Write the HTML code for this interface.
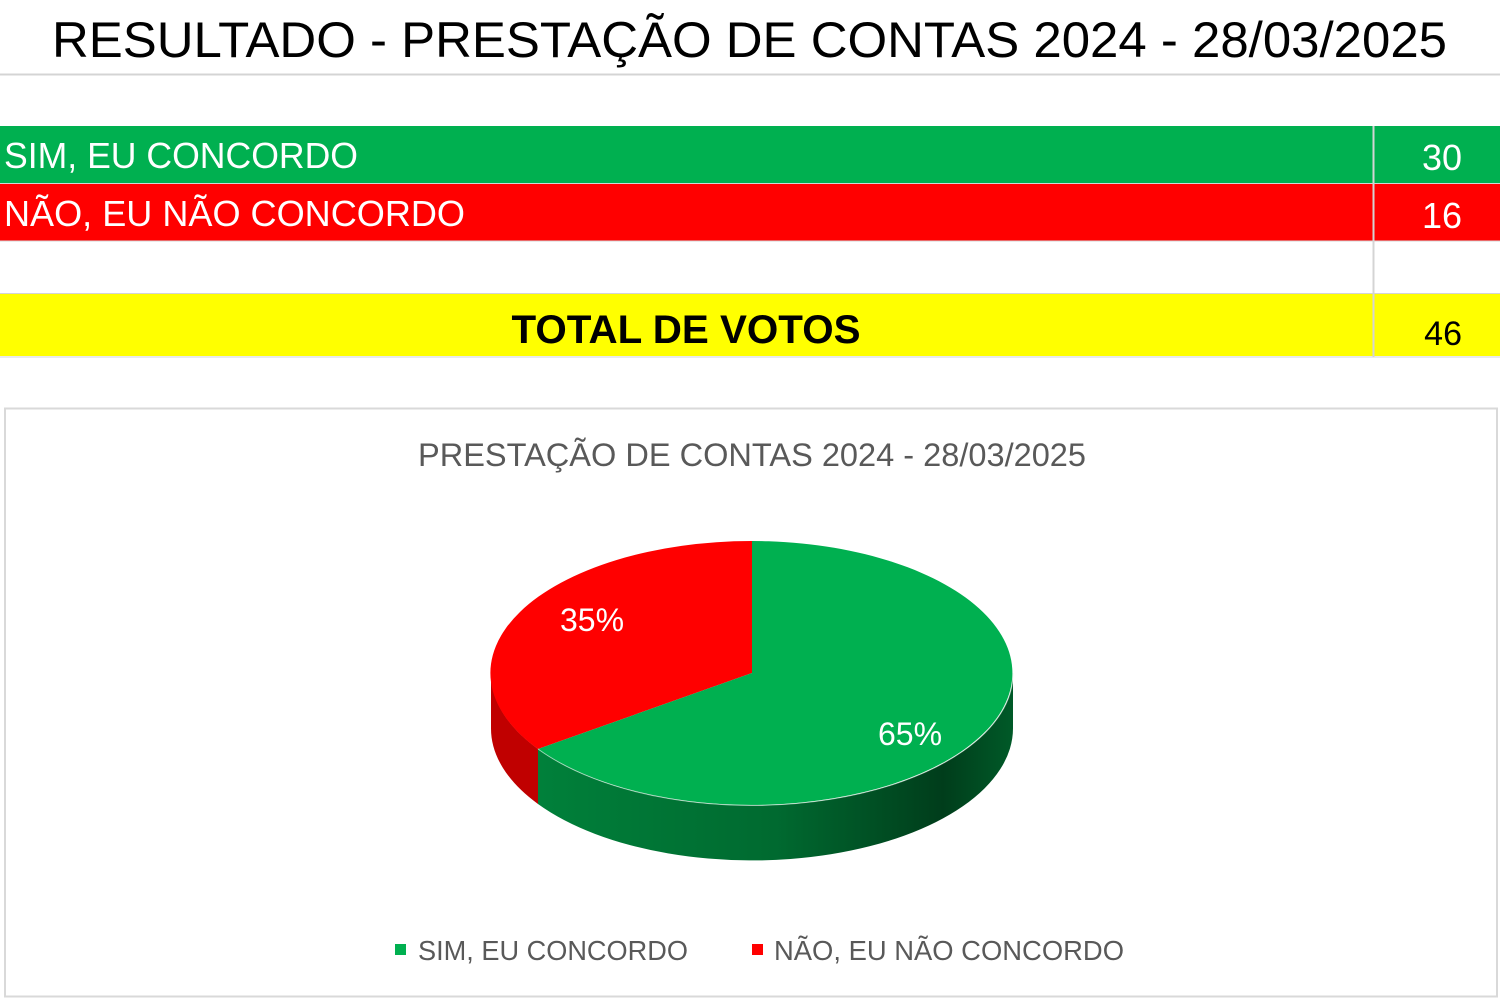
<!DOCTYPE html>
<html><head><meta charset="utf-8"><style>
html,body{margin:0;padding:0;background:#fff}
svg{display:block}
text{font-family:"Liberation Sans",sans-serif}
</style></head><body>
<svg width="1500" height="1000" viewBox="0 0 1500 1000" xmlns="http://www.w3.org/2000/svg">
<defs>
<linearGradient id="gside" x1="538" y1="0" x2="1014" y2="0" gradientUnits="userSpaceOnUse">
<stop offset="0" stop-color="#00803a"/>
<stop offset="0.5" stop-color="#006a30"/>
<stop offset="0.85" stop-color="#003d1b"/>
<stop offset="1" stop-color="#005a28"/>
</linearGradient>
</defs>
<rect width="1500" height="1000" fill="#fff"/>
<text x="52" y="57" font-size="50" fill="#000" textLength="1395" lengthAdjust="spacingAndGlyphs">RESULTADO - PRESTAÇÃO DE CONTAS 2024 - 28/03/2025</text>
<line x1="0" y1="74.5" x2="1500" y2="74.5" stroke="#d4d4d4" stroke-width="2"/>
<rect x="0" y="126" width="1500" height="57" fill="#00b050"/>
<rect x="0" y="184" width="1500" height="57" fill="#ff0000"/>
<rect x="0" y="294" width="1500" height="62" fill="#ffff00"/>
<line x1="0" y1="183.5" x2="1500" y2="183.5" stroke="#d4d4d4"/>
<line x1="0" y1="241" x2="1500" y2="241" stroke="#d4d4d4"/>
<line x1="0" y1="293.5" x2="1500" y2="293.5" stroke="#d4d4d4"/>
<line x1="0" y1="357" x2="1500" y2="357" stroke="#d4d4d4"/>
<line x1="1373.5" y1="126" x2="1373.5" y2="357" stroke="#d4d4d4" stroke-width="2"/>
<text x="4" y="168" font-size="36" fill="#fff" textLength="354" lengthAdjust="spacingAndGlyphs">SIM, EU CONCORDO</text>
<text x="4" y="226" font-size="36" fill="#fff" textLength="461" lengthAdjust="spacingAndGlyphs">NÃO, EU NÃO CONCORDO</text>
<text x="1462" y="170" font-size="36" fill="#fff" text-anchor="end">30</text>
<text x="1462" y="228" font-size="36" fill="#fff" text-anchor="end">16</text>
<text x="686" y="343" font-size="40" font-weight="bold" fill="#000" text-anchor="middle" textLength="349" lengthAdjust="spacingAndGlyphs">TOTAL DE VOTOS</text>
<text x="1462" y="345" font-size="34" fill="#000" text-anchor="end">46</text>
<rect x="5" y="408.5" width="1492" height="588" fill="#fff" stroke="#d9d9d9" stroke-width="2"/>
<text x="418" y="466" font-size="32" fill="#595959" textLength="668" lengthAdjust="spacingAndGlyphs">PRESTAÇÃO DE CONTAS 2024 - 28/03/2025</text>
<!-- side walls -->
<path d="M491,673 A261,132 0 0 0 538,749 L538,804 A261,132 0 0 1 491,728 Z" fill="#c00000"/>
<path d="M538,749 A261,132 0 0 0 1013,673 L1013,728 A261,132 0 0 1 538,804 Z" fill="url(#gside)"/>
<!-- top -->
<path d="M752,673 L752,541 A261,132 0 0 0 538,749 Z" fill="#ff0000"/>
<path d="M752,673 L752,541 A261,132 0 1 1 538,749 Z" fill="#00b050"/>
<path d="M538,749 A261,132 0 0 0 1013,673" fill="none" stroke="#e8f5ec" stroke-width="1" opacity="0.6"/>
<text x="560" y="631" font-size="32" fill="#fff">35%</text>
<text x="878" y="745" font-size="32" fill="#fff">65%</text>
<rect x="395" y="944" width="11" height="11" fill="#00b050"/>
<text x="418" y="960" font-size="28" fill="#595959" textLength="270" lengthAdjust="spacingAndGlyphs">SIM, EU CONCORDO</text>
<rect x="752" y="944" width="11" height="11" fill="#ff0000"/>
<text x="774" y="960" font-size="28" fill="#595959" textLength="350" lengthAdjust="spacingAndGlyphs">NÃO, EU NÃO CONCORDO</text>
</svg>
</body></html>
